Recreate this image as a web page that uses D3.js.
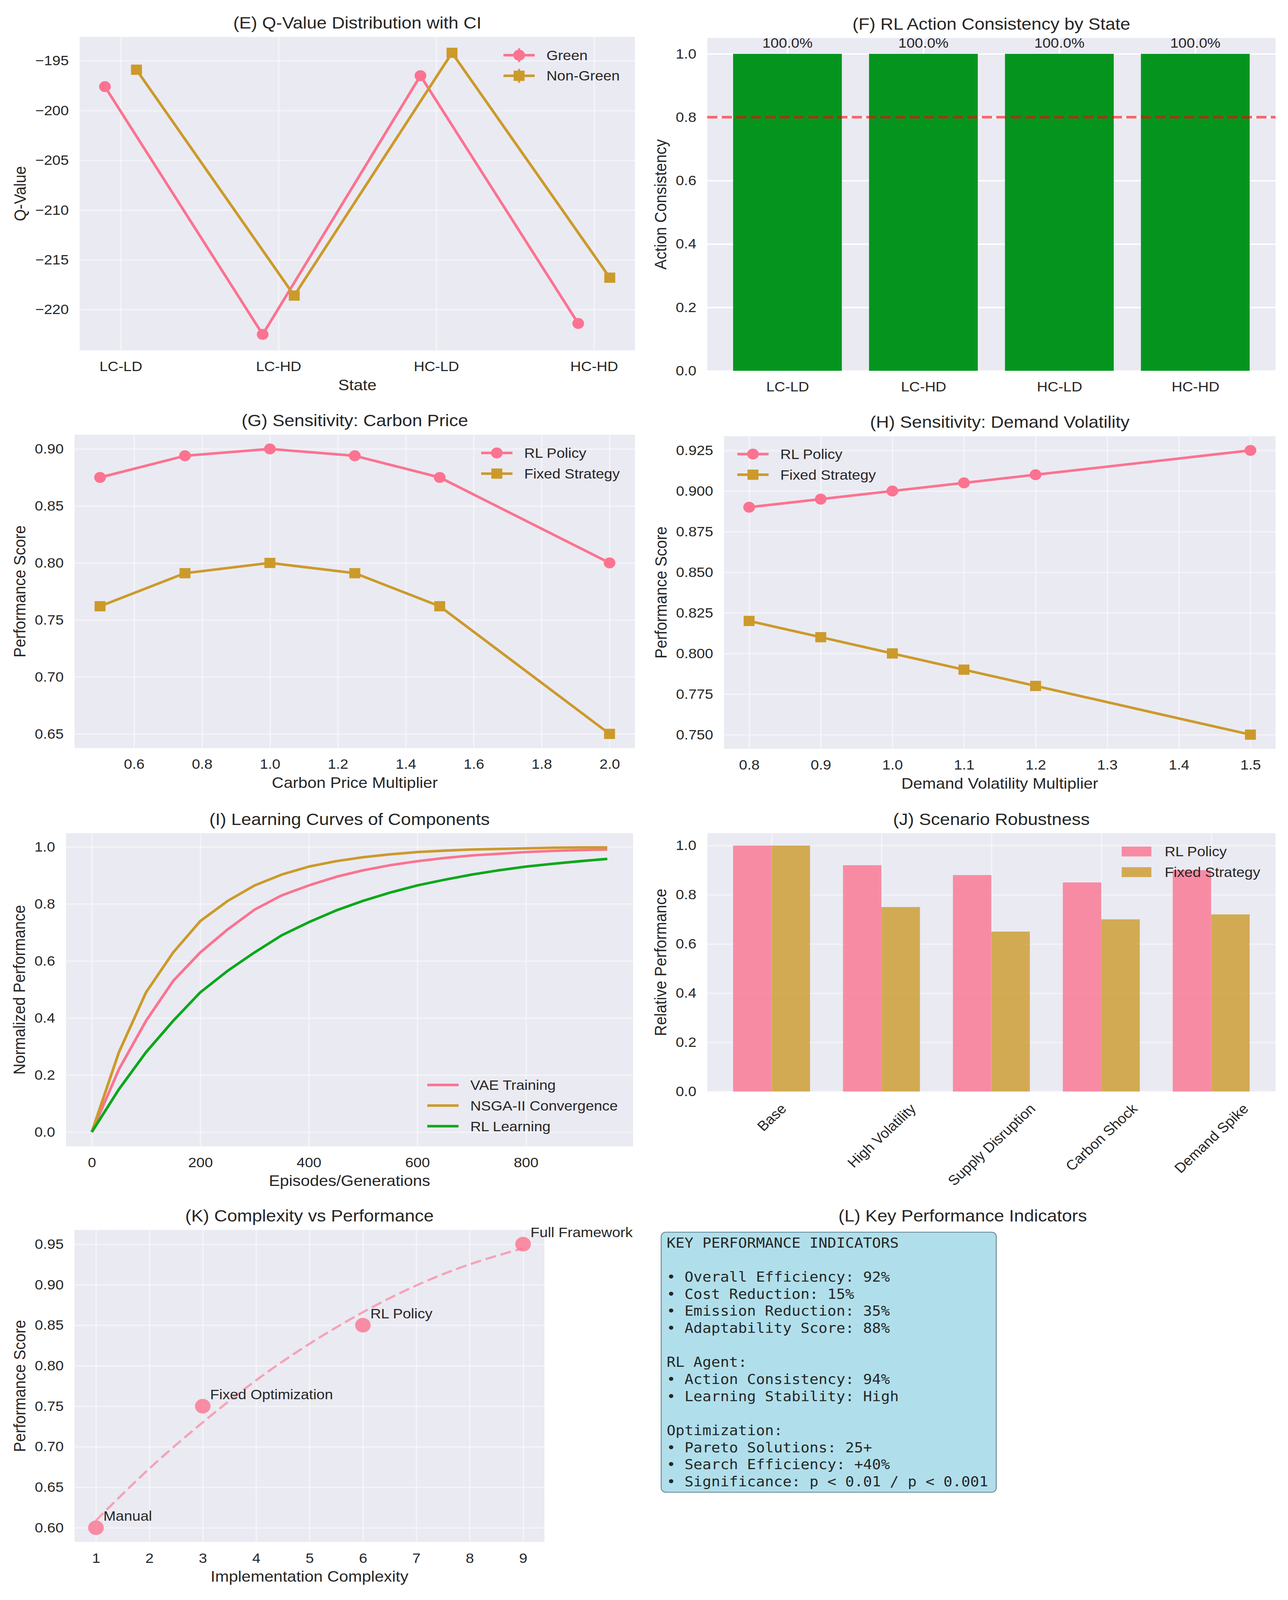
<!DOCTYPE html>
<html>
<head>
<meta charset="utf-8">
<script src="https://cdn.jsdelivr.net/npm/d3@7"></script>
<style>
  html, body { margin: 0; padding: 0; background: #fff; overflow: hidden; }
  svg { display: block; }
  text { white-space: pre; }
</style>
</head>
<body>
<script>
// data
const states = ["LC-LD", "LC-HD", "HC-LD", "HC-HD"];
const qGreen = [-197.6, -222.5, -196.5, -221.4];
const qNonGreen = [-195.9, -218.6, -194.2, -216.8];
const qTicks = [-220, -215, -210, -205, -200, -195];

const consistency = [1.0, 1.0, 1.0, 1.0];
const consistencyTicks = [0, 0.2, 0.4, 0.6, 0.8, 1.0];
const consistencyTarget = 0.8;

const carbonMult = [0.5, 0.75, 1.0, 1.25, 1.5, 2.0];
const carbonRL = [0.875, 0.894, 0.900, 0.894, 0.875, 0.800];
const carbonFixed = [0.762, 0.791, 0.800, 0.791, 0.762, 0.650];
const carbonXTicks = [0.6, 0.8, 1.0, 1.2, 1.4, 1.6, 1.8, 2.0];
const carbonYTicks = [0.65, 0.70, 0.75, 0.80, 0.85, 0.90];

const volMult = [0.8, 0.9, 1.0, 1.1, 1.2, 1.5];
const volRL = [0.890, 0.895, 0.900, 0.905, 0.910, 0.925];
const volFixed = [0.820, 0.810, 0.800, 0.790, 0.780, 0.750];
const volXTicks = [0.8, 0.9, 1.0, 1.1, 1.2, 1.3, 1.4, 1.5];
const volYTicks = [0.750, 0.775, 0.800, 0.825, 0.850, 0.875, 0.900, 0.925];

const episodes = [0, 50, 100, 150, 200, 250, 300, 350, 400, 450, 500, 550, 600, 650, 700, 750, 800, 850, 900, 950];
const vaeCurve = [0, 0.22, 0.39, 0.53, 0.63, 0.71, 0.78, 0.83, 0.865, 0.895, 0.918, 0.936, 0.95, 0.961, 0.97, 0.976, 0.982, 0.986, 0.989, 0.991];
const nsgaCurve = [0, 0.28, 0.49, 0.63, 0.74, 0.81, 0.865, 0.903, 0.931, 0.95, 0.964, 0.974, 0.982, 0.987, 0.991, 0.993, 0.995, 0.997, 0.998, 0.998];
const rlCurve = [0, 0.15, 0.28, 0.39, 0.49, 0.565, 0.63, 0.69, 0.736, 0.777, 0.811, 0.84, 0.865, 0.885, 0.903, 0.918, 0.931, 0.941, 0.95, 0.958];
const episodeTicks = [0, 200, 400, 600, 800];
const normTicks = [0, 0.2, 0.4, 0.6, 0.8, 1.0];

const scenarios = ["Base", "High Volatility", "Supply Disruption", "Carbon Shock", "Demand Spike"];
const scenarioRL = [1.0, 0.92, 0.88, 0.85, 0.90];
const scenarioFixed = [1.0, 0.75, 0.65, 0.70, 0.72];

const methods = ["Manual", "Fixed Optimization", "RL Policy", "Full Framework"];
const complexity = [1, 3, 6, 9];
const methodScore = [0.60, 0.75, 0.85, 0.95];
const trendX = [1, 2, 3, 4, 5, 6, 7, 8, 9];
const trendY = [0.609, 0.673, 0.730, 0.782, 0.827, 0.866, 0.899, 0.925, 0.945];
const complexityTicks = [1, 2, 3, 4, 5, 6, 7, 8, 9];
const scoreTicks = [0.60, 0.65, 0.70, 0.75, 0.80, 0.85, 0.90, 0.95];

const kpiLines = [
  "KEY PERFORMANCE INDICATORS",
  "",
  "• Overall Efficiency: 92%",
  "• Cost Reduction: 15%",
  "• Emission Reduction: 35%",
  "• Adaptability Score: 88%",
  "",
  "RL Agent:",
  "• Action Consistency: 94%",
  "• Learning Stability: High",
  "",
  "Optimization:",
  "• Pareto Solutions: 25+",
  "• Search Efficiency: +40%",
  "• Significance: p < 0.01 / p < 0.001"
];

// style
const FONT = "'Liberation Sans', Arial, sans-serif";
const MONO = "'DejaVu Sans Mono', monospace";
const TXT = "#262626";
const BG = "#eaeaf2";
const PINK = "#fb7390";
const GOLD = "#cc9a2a";
const GREEN_BAR = "#05951f";
const GREEN_LINE = "#0aa81a";
const LW = 7;

// drawn in 3298x4380 units, stretched to whatever the viewport is
const svg = d3.select("body").append("svg")
  .attr("viewBox", "0 0 3298 4380")
  .attr("preserveAspectRatio", "none")
  .style("width", "100vw")
  .style("height", "100vh");
svg.append("rect").attr("width", 3298).attr("height", 4380).attr("fill", "#fff");

function styleAxis(a, op) {
  a.select(".domain").remove();
  a.selectAll("line")
    .attr("stroke", "#fff")
    .attr("stroke-width", 3.8)
    .attr("stroke-opacity", op);
  a.selectAll("text")
    .attr("font-size", 38)
    .attr("font-family", FONT)
    .attr("fill", TXT);
}

function panel(box, xd, yd, cfg) {
  const x = d3.scaleLinear().domain(xd).range([box.l, box.r]);
  const y = d3.scaleLinear().domain(yd).range([box.b, box.t]);

  svg.append("rect")
    .attr("x", box.l).attr("y", box.t)
    .attr("width", box.r - box.l).attr("height", box.b - box.t)
    .attr("fill", BG);

  const ya = svg.append("g")
    .attr("transform", `translate(${box.l},0)`)
    .call(d3.axisLeft(y).tickValues(cfg.yTicks).tickFormat(cfg.yFmt)
      .tickSize(-(box.r - box.l)).tickPadding(28));
  styleAxis(ya, cfg.grid);

  const xa = svg.append("g")
    .attr("transform", `translate(0,${box.b})`)
    .call(d3.axisBottom(x).tickValues(cfg.xTicks).tickFormat(cfg.xFmt)
      .tickSize(-(box.b - box.t)).tickPadding(30));
  styleAxis(xa, cfg.grid);

  if (cfg.rotate) {
    xa.selectAll("text").each(function (d) {
      const t = d3.select(this);
      const w = this.getComputedTextLength();
      const h = 38;
      const off = 27 + (w + h) / 2 * Math.SQRT1_2;
      t.attr("y", null).attr("dy", null)
        .attr("text-anchor", "middle")
        .attr("dominant-baseline", "central")
        .attr("transform", `translate(0,${off}) rotate(-45)`);
    });
  }

  // title
  svg.append("text")
    .attr("x", (box.l + box.r) / 2).attr("y", box.t - 23)
    .attr("text-anchor", "middle")
    .attr("font-family", FONT).attr("font-size", 46).attr("fill", TXT)
    .text(cfg.title);

  if (cfg.xLabel) {
    svg.append("text")
      .attr("x", (box.l + box.r) / 2).attr("y", box.b + 109)
      .attr("text-anchor", "middle")
      .attr("font-family", FONT).attr("font-size", 42).attr("fill", TXT)
      .text(cfg.xLabel);
  }

  const minX = d3.min(ya.selectAll("text").nodes(), n => n.getBBox().x);
  const lx = box.l + minX - 15 - 9;
  svg.append("text")
    .attr("transform", `translate(${lx},${(box.t + box.b) / 2}) rotate(-90)`)
    .attr("text-anchor", "middle")
    .attr("font-family", FONT).attr("font-size", 42).attr("fill", TXT)
    .text(cfg.yLabel);

  return { x, y };
}

function marker(g, type, cx, cy, color) {
  if (type === "o") {
    g.append("circle").attr("cx", cx).attr("cy", cy).attr("r", 15).attr("fill", color);
  } else if (type === "s") {
    g.append("rect").attr("x", cx - 14).attr("y", cy - 14)
      .attr("width", 28).attr("height", 28).attr("fill", color);
  }
}

function series(xs, ys, sx, sy, color, mk) {
  const g = svg.append("g");
  const pts = xs.map((v, i) => [sx(v), sy(ys[i])]);
  g.append("path")
    .attr("d", d3.line()(pts))
    .attr("fill", "none")
    .attr("stroke", color)
    .attr("stroke-width", LW)
    .attr("stroke-linejoin", "round");
  if (mk) pts.forEach(p => marker(g, mk, p[0], p[1], color));
}

function addLegend(items, place, box) {
  const lg = svg.append("g");
  items.forEach((it, i) => {
    const row = lg.append("g").attr("transform", `translate(0,${i * 56.5})`);
    if (it.kind === "rect") {
      row.append("rect").attr("x", 0).attr("y", -13.5).attr("width", 76).attr("height", 27)
        .attr("fill", it.color).attr("fill-opacity", 0.8);
    } else {
      row.append("line").attr("x1", 0).attr("x2", 80).attr("y1", 0).attr("y2", 0)
        .attr("stroke", it.color).attr("stroke-width", LW);
      if (it.kind === "err") {
        row.append("line").attr("x1", 40).attr("x2", 40).attr("y1", -19).attr("y2", 19)
          .attr("stroke", it.color).attr("stroke-width", 5);
      }
      if (it.marker) marker(row, it.marker, 40, 0, it.color);
    }
    row.append("text")
      .attr("x", 110).attr("y", 0).attr("dy", "0.35em")
      .attr("font-family", FONT).attr("font-size", 38).attr("fill", TXT)
      .text(it.label);
  });
  const tw = d3.max(lg.selectAll("text").nodes(), n => n.getComputedTextLength());
  let x0, y0;
  if (place === "ur") { x0 = box.r - 39 - tw - 110; y0 = box.t + 50; }
  if (place === "ul") { x0 = box.l + 34; y0 = box.t + 49; }
  if (place === "lr") { x0 = box.r - 39 - tw - 110; y0 = box.b - 55 - (items.length - 1) * 56.5; }
  lg.attr("transform", `translate(${x0},${y0})`);
}

// (E) Q-values
const boxE = { l: 204, r: 1626, t: 101, b: 959 };
const pE = panel(boxE, [-0.26, 3.26], [-224.1, -192.6], {
  yTicks: qTicks, yFmt: d3.format("d"),
  xTicks: [0, 1, 2, 3], xFmt: i => states[i],
  grid: 0.45, title: "(E) Q-Value Distribution with CI",
  xLabel: "State", yLabel: "Q-Value"
});
series(states.map((s, i) => i - 0.1), qGreen, pE.x, pE.y, PINK, "o");
series(states.map((s, i) => i + 0.1), qNonGreen, pE.x, pE.y, GOLD, "s");
addLegend([
  { label: "Green", color: PINK, marker: "o", kind: "err" },
  { label: "Non-Green", color: GOLD, marker: "s", kind: "err" }
], "ur", boxE);

// (F) action consistency
const boxF = { l: 1811, r: 3266, t: 104, b: 1015 };
const pF = panel(boxF, [-0.59, 3.59], [0, 1.05], {
  yTicks: consistencyTicks, yFmt: d3.format(".1f"),
  xTicks: [0, 1, 2, 3], xFmt: i => states[i],
  grid: 1, title: "(F) RL Action Consistency by State",
  yLabel: "Action Consistency"
});
svg.append("g").selectAll("rect")
  .data(consistency)
  .enter()
  .append("rect")
  .attr("x", (d, i) => pF.x(i - 0.4))
  .attr("width", pF.x(0.8) - pF.x(0))
  .attr("y", d => pF.y(d))
  .attr("height", d => pF.y(0) - pF.y(d))
  .attr("fill", GREEN_BAR);
svg.append("g").selectAll("text")
  .data(consistency)
  .enter()
  .append("text")
  .attr("x", (d, i) => pF.x(i))
  .attr("y", d => pF.y(d + 0.01) - 8)
  .attr("text-anchor", "middle")
  .attr("font-family", FONT).attr("font-size", 38).attr("fill", TXT)
  .text(d => (d * 100).toFixed(1) + "%");
svg.append("line")
  .attr("x1", boxF.l).attr("x2", boxF.r)
  .attr("y1", pF.y(consistencyTarget)).attr("y2", pF.y(consistencyTarget))
  .attr("stroke", "red").attr("stroke-opacity", 0.6)
  .attr("stroke-width", 7).attr("stroke-dasharray", "26,11");

// (G) carbon price
const boxG = { l: 191, r: 1626, t: 1190, b: 2048 };
const pG = panel(boxG, [0.425, 2.075], [0.6375, 0.9125], {
  yTicks: carbonYTicks, yFmt: d3.format(".2f"),
  xTicks: carbonXTicks, xFmt: d3.format(".1f"),
  grid: 0.45, title: "(G) Sensitivity: Carbon Price",
  xLabel: "Carbon Price Multiplier", yLabel: "Performance Score"
});
series(carbonMult, carbonRL, pG.x, pG.y, PINK, "o");
series(carbonMult, carbonFixed, pG.x, pG.y, GOLD, "s");
addLegend([
  { label: "RL Policy", color: PINK, marker: "o" },
  { label: "Fixed Strategy", color: GOLD, marker: "s" }
], "ur", boxG);

// (H) demand volatility
const boxH = { l: 1854, r: 3266, t: 1194, b: 2050 };
const pH = panel(boxH, [0.765, 1.535], [0.74125, 0.93375], {
  yTicks: volYTicks, yFmt: d3.format(".3f"),
  xTicks: volXTicks, xFmt: d3.format(".1f"),
  grid: 0.45, title: "(H) Sensitivity: Demand Volatility",
  xLabel: "Demand Volatility Multiplier", yLabel: "Performance Score"
});
series(volMult, volRL, pH.x, pH.y, PINK, "o");
series(volMult, volFixed, pH.x, pH.y, GOLD, "s");
addLegend([
  { label: "RL Policy", color: PINK, marker: "o" },
  { label: "Fixed Strategy", color: GOLD, marker: "s" }
], "ul", boxH);

// (I) learning curves
const boxI = { l: 169, r: 1621, t: 2281, b: 3138 };
const pI = panel(boxI, [-47.5, 997.5], [-0.05, 1.048], {
  yTicks: normTicks, yFmt: d3.format(".1f"),
  xTicks: episodeTicks, xFmt: d3.format("d"),
  grid: 0.45, title: "(I) Learning Curves of Components",
  xLabel: "Episodes/Generations", yLabel: "Normalized Performance"
});
series(episodes, vaeCurve, pI.x, pI.y, PINK);
series(episodes, nsgaCurve, pI.x, pI.y, GOLD);
series(episodes, rlCurve, pI.x, pI.y, GREEN_LINE);
addLegend([
  { label: "VAE Training", color: PINK },
  { label: "NSGA-II Convergence", color: GOLD },
  { label: "RL Learning", color: GREEN_LINE }
], "lr", boxI);

// (J) scenario robustness
const boxJ = { l: 1811, r: 3266, t: 2281, b: 2988 };
const pJ = panel(boxJ, [-0.585, 4.585], [0, 1.05], {
  yTicks: consistencyTicks, yFmt: d3.format(".1f"),
  xTicks: [0, 1, 2, 3, 4], xFmt: i => scenarios[i],
  grid: 0.45, title: "(J) Scenario Robustness",
  yLabel: "Relative Performance", rotate: true
});
const barW = pJ.x(0.35) - pJ.x(0);
svg.append("g").selectAll("rect")
  .data(scenarioRL)
  .enter()
  .append("rect")
  .attr("x", (d, i) => pJ.x(i - 0.35))
  .attr("width", barW)
  .attr("y", d => pJ.y(d))
  .attr("height", d => pJ.y(0) - pJ.y(d))
  .attr("fill", PINK).attr("fill-opacity", 0.8);
svg.append("g").selectAll("rect")
  .data(scenarioFixed)
  .enter()
  .append("rect")
  .attr("x", (d, i) => pJ.x(i))
  .attr("width", barW)
  .attr("y", d => pJ.y(d))
  .attr("height", d => pJ.y(0) - pJ.y(d))
  .attr("fill", GOLD).attr("fill-opacity", 0.8);
addLegend([
  { label: "RL Policy", color: PINK, kind: "rect" },
  { label: "Fixed Strategy", color: GOLD, kind: "rect" }
], "ur", boxJ);

// (K) complexity vs performance
const boxK = { l: 191, r: 1394, t: 3367, b: 4221 };
const pK = panel(boxK, [0.6, 9.4], [0.5825, 0.9675], {
  yTicks: scoreTicks, yFmt: d3.format(".2f"),
  xTicks: complexityTicks, xFmt: d3.format("d"),
  grid: 0.45, title: "(K) Complexity vs Performance",
  xLabel: "Implementation Complexity", yLabel: "Performance Score"
});
svg.append("g").selectAll("circle")
  .data(methodScore)
  .enter()
  .append("circle")
  .attr("cx", (d, i) => pK.x(complexity[i]))
  .attr("cy", d => pK.y(d))
  .attr("r", 20)
  .attr("fill", PINK).attr("fill-opacity", 0.8);
svg.append("path")
  .attr("d", d3.line().curve(d3.curveNatural)(trendX.map((v, i) => [pK.x(v), pK.y(trendY[i])])))
  .attr("fill", "none")
  .attr("stroke", PINK).attr("stroke-opacity", 0.6)
  .attr("stroke-width", 6).attr("stroke-dasharray", "28,12");
svg.append("g").selectAll("text")
  .data(methods)
  .enter()
  .append("text")
  .attr("x", (d, i) => pK.x(complexity[i]) + 19)
  .attr("y", (d, i) => pK.y(methodScore[i]) - 19)
  .attr("font-family", FONT).attr("font-size", 38).attr("fill", TXT)
  .text(d => d);

// (L) KPI text box
svg.append("text")
  .attr("x", 2465).attr("y", 3344)
  .attr("text-anchor", "middle")
  .attr("font-family", FONT).attr("font-size", 46).attr("fill", TXT)
  .text("(L) Key Performance Indicators");
svg.append("rect")
  .attr("x", 1693).attr("y", 3373)
  .attr("width", 2551 - 1693).attr("height", 4085 - 3373)
  .attr("rx", 12)
  .attr("fill", "#b0dfeb")
  .attr("stroke", "#6f8c98").attr("stroke-width", 2.5);
svg.append("g").selectAll("text")
  .data(kpiLines)
  .enter()
  .append("text")
  .attr("x", 1707)
  .attr("y", (d, i) => 3415 + i * 46.7)
  .attr("font-family", MONO).attr("font-size", 38).attr("fill", TXT)
  .text(d => d);
</script>
</body>
</html>
